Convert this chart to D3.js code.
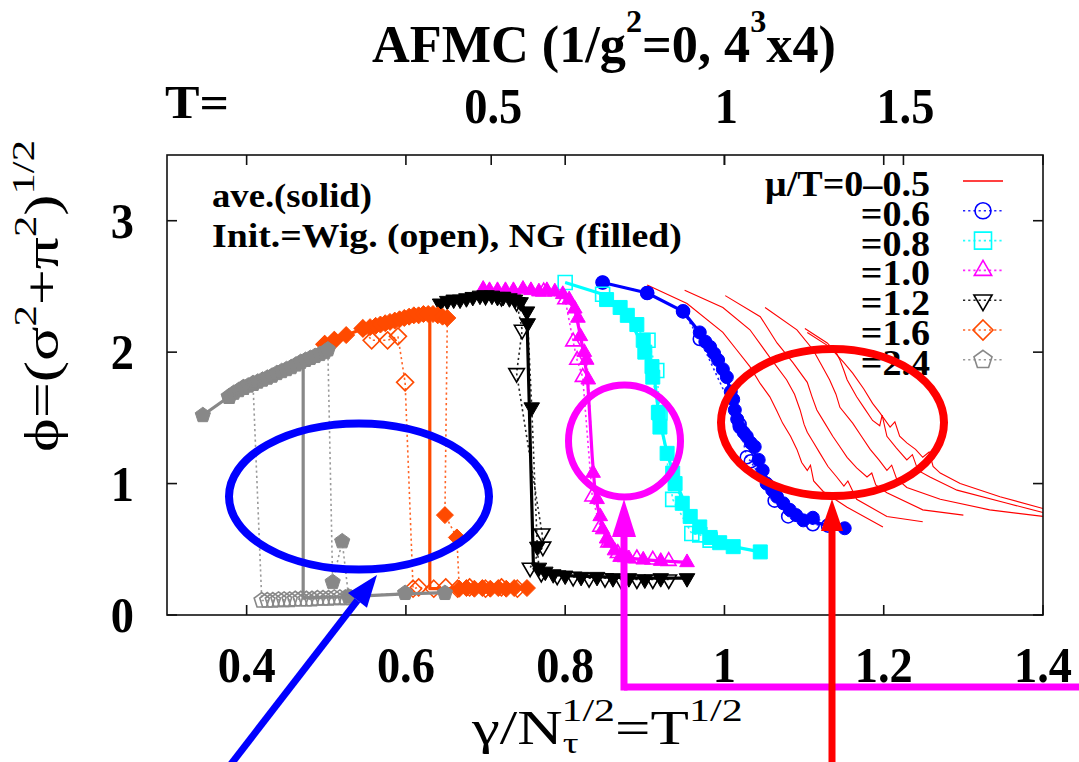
<!DOCTYPE html>
<html>
<head>
<meta charset="utf-8">
<script src="https://cdn.jsdelivr.net/npm/d3@7"></script>
<style>
  html, body { margin: 0; padding: 0; background: #fff; }
  svg { display: block; }
</style>
</head>
<body>
<svg id="chart" width="1079" height="762"></svg>
<script>
// ---------------- axes ----------------
const xTicks = [0.4, 0.6, 0.8, 1.0, 1.2, 1.4];
const xTickLabels = ["0.4", "0.6", "0.8", "1", "1.2", "1.4"];
const yTicks = [0, 1, 2, 3];
const yTickLabels = ["0", "1", "2", "3"];
const tTicks = [0.5, 1, 1.5];            // top axis: temperature T, placed at sqrt(T)
const tTickLabels = ["0.5", "1", "1.5"];
const legendLabels = ["μ/T=0–0.5", "=0.6", "=0.8", "=1.0", "=1.2", "=1.6", "=2.4"];

// ---------------- mu/T = 0 - 0.5 (several runs, lines only) ----------------
const redRun1 = [[0.903,2.51],[0.953,2.37],[0.998,2.15],[1.015,2.02],[1.032,1.89],[1.045,1.76],[1.057,1.66],[1.066,1.55],[1.073,1.46],[1.083,1.36],[1.091,1.26],[1.097,1.16],[1.104,1.10],[1.108,1.14],[1.112,1.02],[1.124,0.94],[1.154,0.82],[1.199,0.67]];
const redRun2 = [[0.950,2.47],[0.998,2.34],[1.032,2.17],[1.057,1.96],[1.078,1.79],[1.088,1.68],[1.095,1.56],[1.100,1.45],[1.104,1.39],[1.112,1.31],[1.120,1.23],[1.130,1.13],[1.141,1.05],[1.150,0.98],[1.155,1.02],[1.166,0.88],[1.204,0.75],[1.249,0.71]];
const redRun3 = [[1.001,2.43],[1.045,2.27],[1.066,2.07],[1.086,1.92],[1.104,1.77],[1.110,1.66],[1.116,1.56],[1.126,1.46],[1.136,1.36],[1.145,1.28],[1.154,1.20],[1.166,1.12],[1.179,1.05],[1.185,1.08],[1.190,0.99],[1.204,0.93],[1.249,0.80],[1.300,0.76]];
const redRun4 = [[1.051,2.34],[1.091,2.17],[1.111,2.02],[1.122,1.90],[1.132,1.79],[1.140,1.68],[1.145,1.58],[1.161,1.46],[1.172,1.36],[1.183,1.26],[1.194,1.18],[1.204,1.10],[1.210,1.14],[1.216,1.04],[1.229,0.97],[1.271,0.88],[1.333,0.80],[1.400,0.75]];
const redRun5 = [[1.101,2.18],[1.129,2.07],[1.140,2.00],[1.145,1.94],[1.150,1.86],[1.154,1.79],[1.166,1.66],[1.176,1.57],[1.186,1.48],[1.195,1.44],[1.198,1.52],[1.204,1.36],[1.216,1.27],[1.229,1.18],[1.236,1.22],[1.243,1.10],[1.258,1.05],[1.292,0.95],[1.355,0.85],[1.400,0.78]];
const redRun6 = [[1.104,2.15],[1.132,2.04],[1.150,1.92],[1.161,1.84],[1.175,1.72],[1.186,1.61],[1.195,1.54],[1.208,1.43],[1.214,1.47],[1.220,1.36],[1.229,1.31],[1.240,1.26],[1.249,1.20],[1.257,1.24],[1.262,1.13],[1.271,1.08],[1.296,1.00],[1.346,0.90],[1.400,0.81]];

// ---------------- mu/T = 0.6 ----------------
const mu06Ave = [[0.847,2.53],[0.903,2.45],[0.948,2.31],[0.969,2.15],[0.992,1.94],[1.003,1.81],[1.013,1.56],[1.028,1.36],[1.048,1.10],[1.066,0.90],[1.099,0.72],[1.151,0.66]];
const mu06Wig = [[0.847,2.53],[0.903,2.45],[0.948,2.31],[0.969,2.10],[1.019,1.45],[1.028,1.20],[1.033,1.17],[1.063,0.87],[1.080,0.75],[1.111,0.69],[1.130,0.68]];
const mu06NG = [[0.847,2.53],[0.903,2.45],[0.948,2.31],[0.969,2.15],[0.976,2.08],[0.982,2.04],[0.987,1.99],[0.992,1.94],[0.998,1.87],[1.003,1.81],[1.008,1.70],[1.011,1.64],[1.013,1.56],[1.016,1.49],[1.019,1.43],[1.024,1.39],[1.028,1.36],[1.033,1.31],[1.038,1.28],[1.043,1.18],[1.048,1.10],[1.053,1.00],[1.060,0.95],[1.066,0.90],[1.074,0.85],[1.082,0.80],[1.090,0.76],[1.099,0.72],[1.111,0.74],[1.151,0.66]];

// ---------------- mu/T = 0.8 ----------------
const mu08Ave = [[0.800,2.53],[0.847,2.44],[0.878,2.28],[0.900,2.02],[0.912,1.80],[0.918,1.50],[0.928,1.23],[0.940,1.00],[0.957,0.75],[0.982,0.59],[1.011,0.52],[1.045,0.48]];
const mu08Wig = [[0.800,2.53],[0.847,2.44],[0.904,2.09],[0.915,1.86],[0.919,1.54],[0.935,0.88],[0.959,0.62],[0.969,0.61],[0.982,0.57]];
const mu08NG = [[0.852,2.40],[0.869,2.34],[0.878,2.28],[0.890,2.21],[0.898,2.09],[0.900,2.00],[0.909,1.89],[0.910,1.81],[0.917,1.54],[0.919,1.43],[0.928,1.23],[0.935,1.08],[0.938,1.00],[0.947,0.85],[0.957,0.75],[0.969,0.67],[0.982,0.59],[0.994,0.55],[1.011,0.52],[1.045,0.48]];

// ---------------- mu/T = 1.0 ----------------
const mu10Ave = [[0.697,2.48],[0.750,2.47],[0.797,2.44],[0.812,2.33],[0.820,2.10],[0.828,1.80],[0.834,1.20],[0.838,0.90],[0.846,0.68],[0.858,0.52],[0.870,0.44],[0.900,0.42],[0.953,0.40]];
const mu10Wig = [[0.773,2.46],[0.800,2.40],[0.810,2.08],[0.815,1.94],[0.822,1.81],[0.834,0.90],[0.844,0.67],[0.854,0.55],[0.866,0.47],[0.876,0.44],[0.890,0.43],[0.910,0.42],[0.930,0.41]];
const mu10NG = [[0.697,2.48],[0.705,2.47],[0.715,2.47],[0.725,2.47],[0.735,2.47],[0.747,2.48],[0.757,2.47],[0.767,2.46],[0.777,2.47],[0.787,2.46],[0.797,2.44],[0.805,2.40],[0.812,2.33],[0.816,2.26],[0.819,2.12],[0.824,2.00],[0.827,1.94],[0.829,1.79],[0.835,1.08],[0.840,0.88],[0.844,0.75],[0.847,0.65],[0.852,0.58],[0.856,0.55],[0.862,0.49],[0.869,0.44],[0.880,0.43],[0.898,0.42],[0.920,0.41],[0.953,0.40]];

// ---------------- mu/T = 1.2 ----------------
const mu12Ave = [[0.643,2.37],[0.693,2.43],[0.730,2.41],[0.747,2.35],[0.752,2.28],[0.760,0.40],[0.768,0.33],[0.800,0.30],[0.850,0.29],[0.900,0.28],[0.953,0.28]];
const mu12Wig = [[0.700,2.43],[0.720,2.42],[0.739,2.38],[0.746,2.17],[0.739,1.84],[0.771,0.62],[0.772,0.52],[0.756,0.36],[0.770,0.32],[0.790,0.30],[0.810,0.29],[0.830,0.28],[0.850,0.28],[0.870,0.27],[0.890,0.27],[0.910,0.27],[0.930,0.27]];
const mu12NG = [[0.643,2.37],[0.652,2.39],[0.660,2.40],[0.668,2.40],[0.676,2.41],[0.684,2.42],[0.693,2.43],[0.700,2.43],[0.708,2.43],[0.715,2.42],[0.722,2.42],[0.730,2.41],[0.737,2.40],[0.744,2.38],[0.752,2.31],[0.753,2.22],[0.758,1.58],[0.765,0.52],[0.767,0.36],[0.775,0.33],[0.785,0.31],[0.800,0.30],[0.820,0.29],[0.840,0.29],[0.860,0.28],[0.880,0.28],[0.900,0.27],[0.920,0.28],[0.953,0.28]];

// ---------------- mu/T = 1.6 ----------------
const mu16Ave = [[0.498,2.06],[0.546,2.18],[0.580,2.23],[0.610,2.27],[0.630,2.28],[0.630,0.20],[0.660,0.20],[0.700,0.20],[0.752,0.205]];
const mu16Wig = [[0.498,2.06],[0.510,2.09],[0.546,2.18],[0.557,2.09],[0.577,2.09],[0.590,2.12],[0.599,1.77],[0.609,0.20],[0.616,0.21],[0.635,0.20],[0.650,0.21],[0.665,0.20],[0.680,0.21],[0.700,0.20],[0.720,0.21],[0.740,0.20]];
const mu16NG = [[0.498,2.06],[0.510,2.09],[0.525,2.13],[0.546,2.18],[0.555,2.19],[0.562,2.20],[0.568,2.21],[0.574,2.22],[0.580,2.23],[0.586,2.24],[0.592,2.25],[0.598,2.26],[0.604,2.27],[0.610,2.28],[0.616,2.28],[0.622,2.29],[0.628,2.29],[0.634,2.29],[0.640,2.28],[0.646,2.27],[0.652,2.26],[0.649,0.76],[0.664,0.59],[0.667,0.20],[0.676,0.205],[0.686,0.20],[0.696,0.205],[0.706,0.20],[0.716,0.205],[0.726,0.20],[0.736,0.205],[0.752,0.205]];

// ---------------- mu/T = 2.4 ----------------
const mu24Ave = [[0.345,1.52],[0.380,1.67],[0.420,1.79],[0.460,1.90],[0.471,1.93],[0.471,0.13],[0.500,0.135],[0.530,0.14],[0.560,0.15],[0.599,0.16],[0.649,0.17]];
const mu24Wig = [[0.378,1.66],[0.396,1.73],[0.408,1.76],[0.419,0.11],[0.426,0.11],[0.433,0.11],[0.440,0.115],[0.447,0.115],[0.454,0.115],[0.461,0.12],[0.468,0.12],[0.475,0.12],[0.482,0.12],[0.489,0.125],[0.496,0.125],[0.503,0.125],[0.510,0.13],[0.517,0.13],[0.524,0.13],[0.531,0.13]];
const mu24NG = [[0.345,1.52],[0.378,1.66],[0.384,1.69],[0.390,1.71],[0.396,1.73],[0.402,1.745],[0.408,1.76],[0.414,1.775],[0.420,1.79],[0.426,1.805],[0.432,1.82],[0.438,1.84],[0.444,1.855],[0.450,1.87],[0.456,1.885],[0.462,1.905],[0.468,1.925],[0.474,1.94],[0.480,1.955],[0.486,1.97],[0.492,1.985],[0.498,2.00],[0.502,2.02],[0.508,0.25],[0.520,0.56],[0.528,0.14],[0.599,0.167],[0.649,0.167]];

// ---------------- layout ----------------
const svg = d3.select("#chart");
const L = 167, R = 1043, T = 155, B = 615;
const x = d3.scaleLinear().domain([0.3, 1.4]).range([L, R]);
const y = d3.scaleLinear().domain([0, 3.5]).range([B, T]);
const FONT = "'Liberation Serif','Times New Roman','DejaVu Serif',serif";

// squeeze a text element horizontally (about its x) to a given width
function fitWidth(sel, width) {
  const bb = sel.node().getBBox();
  const s = width / bb.width;
  const ax = +sel.attr("x") || 0;
  sel.attr("transform", `translate(${ax},0) scale(${s},1) translate(${-ax},0)`);
  return s;
}
function scaleX(sel, s) {
  const ax = +sel.attr("x") || 0;
  sel.attr("transform", `translate(${ax},0) scale(${s},1) translate(${-ax},0)`);
}

function markerPath(shape, r) {
  switch (shape) {
    case "circle": return d3.symbol(d3.symbolCircle, Math.PI * r * r)();
    case "square": return `M${-r},${-r}H${r}V${r}H${-r}Z`;
    case "triUp": return `M0,${-r}L${r * 0.866},${r * 0.5}L${-r * 0.866},${r * 0.5}Z`;
    case "triDown": return `M0,${r}L${r * 0.866},${-r * 0.5}L${-r * 0.866},${-r * 0.5}Z`;
    case "diamond": return `M0,${-r}L${r},0L0,${r}L${-r},0Z`;
    case "pentagon": {
      const p = d3.range(5).map(i => {
        const a = -Math.PI / 2 + i * 2 * Math.PI / 5;
        return [r * Math.cos(a), r * Math.sin(a)];
      });
      return "M" + p.map(q => q.join(",")).join("L") + "Z";
    }
  }
}

const series = [
  { color: "#0000ff", shape: "circle",   r: 6.5, ave: mu06Ave, wig: mu06Wig, ng: mu06NG },
  { color: "#00ffff", shape: "square",   r: 7,   ave: mu08Ave, wig: mu08Wig, ng: mu08NG },
  { color: "#ff00ff", shape: "triUp",    r: 8.5, ave: mu10Ave, wig: mu10Wig, ng: mu10NG },
  { color: "#000000", shape: "triDown",  r: 9,   ave: mu12Ave, wig: mu12Wig, ng: mu12NG },
  { color: "#ff4a00", shape: "diamond",  r: 8.5, ave: mu16Ave, wig: mu16Wig, ng: mu16NG },
  { color: "#888888", shape: "pentagon", r: 8,   ave: mu24Ave, wig: mu24Wig, ng: mu24NG }
];
const redRuns = [redRun1, redRun2, redRun3, redRun4, redRun5, redRun6];

const line = d3.line().x(d => x(d[0])).y(d => y(d[1]));

// clip for plot area
svg.append("defs").append("clipPath").attr("id", "plotClip")
  .append("rect").attr("x", L).attr("y", T).attr("width", R - L).attr("height", B - T);

const plot = svg.append("g").attr("clip-path", "url(#plotClip)");

// mu/T = 0 - 0.5 runs
plot.append("g").selectAll("path").data(redRuns).join("path")
  .attr("d", line).attr("fill", "none").attr("stroke", "#ff0000").attr("stroke-width", 1.1);

// other chemical potentials
series.forEach(s => {
  const g = plot.append("g");
  // dotted connections of the two initial-condition runs
  [s.wig, s.ng].forEach(run => {
    g.append("path").attr("d", line(run)).attr("fill", "none")
      .attr("stroke", s.color).attr("stroke-width", 1.6)
      .attr("stroke-dasharray", "2.2,3").attr("opacity", 0.85);
  });
  // average (solid)
  g.append("path").attr("d", line(s.ave)).attr("fill", "none")
    .attr("stroke", s.color).attr("stroke-width", 3.2).attr("stroke-linejoin", "round");
  // filled markers (NG start)
  g.append("g").selectAll("path").data(s.ng).join("path")
    .attr("d", markerPath(s.shape, s.r))
    .attr("transform", d => `translate(${x(d[0])},${y(d[1])})`)
    .attr("fill", s.color).attr("stroke", s.color).attr("stroke-width", 1);
  // open markers (Wigner start)
  g.append("g").selectAll("path").data(s.wig).join("path")
    .attr("d", markerPath(s.shape, s.r))
    .attr("transform", d => `translate(${x(d[0])},${y(d[1])})`)
    .attr("fill", "none").attr("stroke", s.color).attr("stroke-width", 1.6);
});

// ---------------- frame & ticks ----------------
const axisG = svg.append("g").attr("stroke", "#111").attr("stroke-width", 1.6);
axisG.append("rect").attr("x", L).attr("y", T).attr("width", R - L).attr("height", B - T).attr("fill", "none");
const tl = 10;
xTicks.forEach(v => {
  axisG.append("line").attr("x1", x(v)).attr("x2", x(v)).attr("y1", B).attr("y2", B - tl);
  axisG.append("line").attr("x1", x(v)).attr("x2", x(v)).attr("y1", T).attr("y2", T + tl);
});
tTicks.forEach(v => {
  const px = x(Math.sqrt(v));
  axisG.append("line").attr("x1", px).attr("x2", px).attr("y1", T).attr("y2", T + tl);
});
yTicks.forEach(v => {
  axisG.append("line").attr("x1", L).attr("x2", L + tl).attr("y1", y(v)).attr("y2", y(v));
  axisG.append("line").attr("x1", R).attr("x2", R - tl).attr("y1", y(v)).attr("y2", y(v));
});

// ---------------- tick labels ----------------
const txt = svg.append("g").attr("font-family", FONT).attr("fill", "#000");

let tickScale = null;
xTicks.forEach((v, i) => {
  const t = txt.append("text").attr("x", x(v)).attr("y", 682)
    .attr("text-anchor", "middle").attr("font-size", 50).attr("font-weight", "bold")
    .text(xTickLabels[i]);
  if (tickScale === null) tickScale = fitWidth(t, 58); else scaleX(t, tickScale);
});
yTicks.forEach((v, i) => {
  const t = txt.append("text").attr("x", 134).attr("y", y(v) + 17)
    .attr("text-anchor", "end").attr("font-size", 50).attr("font-weight", "bold")
    .text(yTickLabels[i]);
  scaleX(t, tickScale);
});
tTicks.forEach((v, i) => {
  const t = txt.append("text").attr("x", x(Math.sqrt(v)) + 2).attr("y", 123)
    .attr("text-anchor", "middle").attr("font-size", 50).attr("font-weight", "bold")
    .text(tTickLabels[i]);
  scaleX(t, tickScale);
});
{
  const t = txt.append("text").attr("x", 165).attr("y", 118)
    .attr("font-size", 46).attr("font-weight", "bold").text("T=");
  fitWidth(t, 64);
}

// ---------------- title ----------------
{
  const t = txt.append("text").attr("x", 372).attr("y", 62)
    .attr("font-size", 52).attr("font-weight", "bold");
  t.append("tspan").text("AFMC (1/g");
  t.append("tspan").attr("font-size", 32).attr("dy", -30).text("2");
  t.append("tspan").attr("dy", 30).text("=0, 4");
  t.append("tspan").attr("font-size", 32).attr("dy", -30).text("3");
  t.append("tspan").attr("dy", 30).text("x4)");
  fitWidth(t, 464);
}

// ---------------- axis titles ----------------
{
  const t = txt.append("text").attr("x", 472).attr("y", 744).attr("font-size", 48);
  t.append("tspan").text("γ/N");
  t.append("tspan").attr("font-size", 30).attr("dy", 9).text("τ");
  t.append("tspan").attr("font-size", 32).attr("dx", -13).attr("dy", -32).text("1/2");
  t.append("tspan").attr("dy", 23).text("=T");
  t.append("tspan").attr("font-size", 32).attr("dy", -23).text("1/2");
  fitWidth(t, 272);
}
{
  const g = txt.append("g").attr("transform", "translate(58,452) rotate(-90)");
  const t = g.append("text").attr("x", 0).attr("y", 0).attr("font-size", 48);
  t.append("tspan").text("ϕ=(σ");
  t.append("tspan").attr("font-size", 32).attr("dy", -22).text("2");
  t.append("tspan").attr("dy", 22).text("+π");
  t.append("tspan").attr("font-size", 32).attr("dy", -22).text("2");
  t.append("tspan").attr("dy", 22).text(")");
  t.append("tspan").attr("font-size", 32).attr("dy", -24).text("1/2");
  fitWidth(t, 312);
}

// ---------------- notes ----------------
{
  const t1 = txt.append("text").attr("x", 212).attr("y", 207)
    .attr("font-size", 34).attr("font-weight", "bold").text("ave.(solid)");
  fitWidth(t1, 160);
  const t2 = txt.append("text").attr("x", 212).attr("y", 247)
    .attr("font-size", 34).attr("font-weight", "bold").text("Init.=Wig. (open), NG (filled)");
  fitWidth(t2, 470);
}

// ---------------- legend ----------------
const legY0 = 181, legDy = 29.8;
const legendStyles = [{ color: "#ff0000", shape: null, r: 0 }].concat(series);
let legScale = null;
legendStyles.forEach((s, i) => {
  const ly = legY0 + i * legDy;
  const t = txt.append("text").attr("x", 930).attr("y", ly + 15)
    .attr("text-anchor", "end").attr("font-size", 35).attr("font-weight", "bold")
    .text(legendLabels[i]);
  if (legScale === null) legScale = fitWidth(t, 165); else scaleX(t, legScale);
  if (s.shape === null) {
    svg.append("line").attr("x1", 963).attr("x2", 1003).attr("y1", ly).attr("y2", ly)
      .attr("stroke", s.color).attr("stroke-width", 1.3);
  } else {
    svg.append("line").attr("x1", 963).attr("x2", 1003).attr("y1", ly).attr("y2", ly)
      .attr("stroke", s.color).attr("stroke-width", 1.6).attr("stroke-dasharray", "2.2,3").attr("opacity", 0.85);
    svg.append("path").attr("d", markerPath(s.shape, s.r + 1.5))
      .attr("transform", `translate(983,${ly})`)
      .attr("fill", "none").attr("stroke", s.color).attr("stroke-width", 1.6);
  }
});

// ---------------- highlight marks ----------------
const hl = svg.append("g").attr("fill", "none");
function arrow(x1, y1, x2, y2, color, w, headLen, headHalf) {
  const dx = x2 - x1, dy = y2 - y1, len = Math.hypot(dx, dy);
  const ux = dx / len, uy = dy / len, nx = -uy, ny = ux;
  const bx = x2 - ux * headLen, by = y2 - uy * headLen;
  hl.append("line").attr("x1", x1).attr("y1", y1).attr("x2", bx).attr("y2", by)
    .attr("stroke", color).attr("stroke-width", w);
  hl.append("path")
    .attr("d", `M${x2},${y2}L${bx + nx * headHalf},${by + ny * headHalf}L${bx - nx * headHalf},${by - ny * headHalf}Z`)
    .attr("fill", color);
}
hl.append("ellipse").attr("cx", 359).attr("cy", 496.5).attr("rx", 130).attr("ry", 73)
  .attr("stroke", "#0000ff").attr("stroke-width", 8);
arrow(228, 768, 377, 575, "#0000ff", 7, 32, 12);

hl.append("circle").attr("cx", 624.5).attr("cy", 441).attr("r", 56)
  .attr("stroke", "#ff00ff").attr("stroke-width", 7);
hl.append("path").attr("d", "M1085,687H624")
  .attr("stroke", "#ff00ff").attr("stroke-width", 7);
arrow(624, 690.5, 624, 499, "#ff00ff", 7, 38, 12);

hl.append("ellipse").attr("cx", 832.5).attr("cy", 422.5).attr("rx", 111.5).attr("ry", 73.5)
  .attr("stroke", "#ff0000").attr("stroke-width", 8);
arrow(832, 768, 832, 499, "#ff0000", 7, 32, 11);
</script>
</body>
</html>
